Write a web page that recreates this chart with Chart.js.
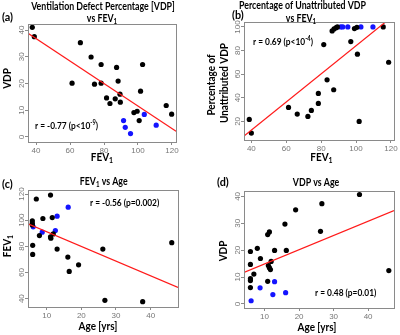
<!DOCTYPE html>
<html><head><meta charset="utf-8">
<script src="https://cdn.jsdelivr.net/npm/chart.js@4/dist/chart.umd.min.js"></script>
<style>
html,body{margin:0;padding:0;background:#fff;}
body{width:400px;height:335px;position:relative;overflow:hidden;}
canvas{position:absolute;}
</style></head><body>
<canvas id="ca" width="200" height="165" style="left:0;top:0"></canvas>
<canvas id="cb" width="200" height="165" style="left:200px;top:0"></canvas>
<canvas id="cc" width="200" height="170" style="left:0;top:165px"></canvas>
<canvas id="cd" width="200" height="170" style="left:200px;top:165px"></canvas>
<script>
// ---------- data: panel (a) VDP vs FEV1 ----------
const aBlackFEV = [37.8,39,66.1,72.4,78.3,87.4,102.7,61.2,74.4,78.3,88.3,81.5,83.5,86.6,89.4,89.6,101.5,97.6,99.5,100.7,116.6,119.8];
const aBlackVDP = [41,37.5,35.25,29.9,27.1,26,27.1,20.1,19.75,20.1,20.9,14.6,12.5,14.25,16,13,17.1,9.1,9.6,6.1,11.75,8.5];
const aBlueFEV  = [91.5,92.5,95.6,103.7,110.7];
const aBlueVDP  = [6.1,3.6,1.25,8.4,4.4];
const aFitX = [35.3,122.4];
const aFitY = [38.75,2.1];
const aXTicks = [40,60,80,100,120];
const aYTicks = [0,10,20,30,40];

// ---------- panel (b) Unattributed VDP % vs FEV1 ----------
const bBlackFEV = [38.8,40,61.3,66.3,72.4,74.4,78.4,78.4,81.5,83.4,87.2,86.3,87.4,88.6,89.3,97,99.1,100.5,100.8,101.8,115.6,118.7];
const bBlackPct = [21.7,10.1,31.8,26.2,24.2,29.3,35.2,43.7,85.1,55.2,46.8,96.6,98.3,99.4,100,87.6,98.6,99.7,76.9,20,100,70.1];
const bBlueFEV  = [91.2,92.4,95.3,102.8,109.7];
const bBluePct  = [100,100,100,100,100];
const bFitX = [35.8,118];
const bFitY = [7.6,105.5];
const bXTicks = [40,60,80,100,120];
const bYTicks = [20,40,60,80,100];

// ---------- panel (c) FEV1 vs Age ----------
const cBlackAge = [5.85,5.85,5.85,5.95,5.95,7.0,7.9,8.9,11.1,11.1,11.2,11.6,11.9,13.0,16.1,16.5,19.2,26.2,26.8,37.7,46.1];
const cBlackFEV = [99.5,97.7,96.4,80.8,73.8,116.2,88.2,101.3,119.2,87.2,86.2,102,89.5,77.9,71.8,60.8,65.9,77.9,38.7,37.7,82.8];
const cBlueAge  = [6.1,8.7,12.5,13,16.2];
const cBlueFEV  = [94.9,90.8,92.1,103.1,110];
const cFitX = [4.6,47.9];
const cFitY = [97.2,48.5];
const cXTicks = [10,20,30,40];
const cYTicks = [40,60,80,100,120];

// ---------- panel (d) VDP vs Age ----------
const dBlackAge = [5.9,5.9,5.9,5.9,5.9,6.9,7.9,8.8,10.9,11.4,10.9,11.1,11.4,11.7,11.9,12.9,15.9,16.3,19.0,26.2,26.6,37.5,46];
const dBlackVDP = [19.5,14.7,9.4,8.7,6.1,11.1,20.7,16.9,25.8,26.8,8.4,14.3,13.5,12.8,15.8,19.9,29.7,19.9,35,27,37.3,40.7,12.4];
const dBlueAge  = [6.1,8.7,12.4,12.9,16.1];
const dBlueVDP  = [1.2,6,3.5,8.3,4.2];
const dFitX = [4.04,47.5];
const dFitY = [11.7,34.7];
const dXTicks = [10,20,30,40];
const dYTicks = [0,10,20,30,40];

const pts = (xs, ys) => xs.map((v, i) => ({x: v, y: ys[i]}));

const TITLE_FONT = 'Lato, "Open Sans", sans-serif';
const TICK_FONT = '"Liberation Sans", Arial, sans-serif';

function drawParts(ctx, parts, x, y, size, weight, color, align, family, sx) {
  sx = sx || 1;
  const fonts = parts.map(p => `${weight} ${p[1] ? size * 0.7 : size}px ${family}`);
  const widths = parts.map((p, i) => { ctx.font = fonts[i]; return ctx.measureText(p[0]).width; });
  const total = widths.reduce((a, b) => a + b, 0) * sx;
  const x0 = align === 'center' ? x - total / 2 : (align === 'right' ? x - total : x);
  ctx.save();
  ctx.translate(x0, y); ctx.scale(sx, 1);
  ctx.fillStyle = color; ctx.textBaseline = 'middle'; ctx.textAlign = 'left';
  let cx = 0;
  parts.forEach((p, i) => {
    ctx.font = fonts[i];
    const dy = p[1] === 1 ? size * 0.3 : (p[1] === 2 ? -size * 0.35 : 0);
    ctx.fillText(p[0], cx, dy);
    cx += widths[i];
  });
  ctx.restore();
}
function drawRot(ctx, parts, x, y, size, weight, color, family, sx) {
  ctx.save(); ctx.translate(x, y); ctx.rotate(-Math.PI / 2);
  drawParts(ctx, parts, 0, 0, size, weight, color, 'center', family, sx);
  ctx.restore();
}

const panelText = {
  id: 'panelText',
  afterDraw(chart) {
    const P = chart.config.options.plugins.panelText;
    const ctx = chart.ctx, a = chart.chartArea;
    const xs = chart.scales.x, ys = chart.scales.y;
    ctx.save();
    ctx.strokeStyle = '#8a8a8a'; ctx.lineWidth = 1;
    ctx.strokeRect(Math.round(a.left) + 0.5, Math.round(a.top) + 0.5, Math.round(a.right - a.left), Math.round(a.bottom - a.top));
    xs.ticks.forEach(t => drawParts(ctx, [[String(t.value), 0]], xs.getPixelForValue(t.value), a.bottom + 9, 8, 'normal', '#777', 'center', TICK_FONT));
    ys.ticks.forEach(t => drawRot(ctx, [[String(t.value), 0]], a.left - 6.5, ys.getPixelForValue(t.value), 8, 'normal', '#777', TICK_FONT));
    drawParts(ctx, [[P.label, 0]], P.labelPos[0], P.labelPos[1], 12, 'bold', '#000', 'left', TITLE_FONT, 0.9);
    P.title.forEach(t => drawParts(ctx, t.parts, t.pos[0], t.pos[1], 11, 'bold', '#000', 'center', TITLE_FONT, 0.8));
    drawParts(ctx, P.xlab, P.xlabPos[0], P.xlabPos[1], 12, 'bold', '#000', 'center', TITLE_FONT, 0.83);
    P.ylab.forEach(t => drawRot(ctx, t.parts, t.pos[0], t.pos[1], 12, 'bold', '#000', TITLE_FONT, 0.83));
    drawParts(ctx, P.ann, P.annPos[0], P.annPos[1], 9.5, 'bold', '#000', 'left', TITLE_FONT, 0.88);
    ctx.restore();
  }
};

function makeChart(id, cfg) {
  const cv = document.getElementById(id);
  const W = cv.width, H = cv.height, box = cfg.box;
  return new Chart(cv, {
    type: 'scatter',
    data: {datasets: [
      {type: 'line', data: pts(cfg.fitX, cfg.fitY), borderColor: '#ff1a1a', borderWidth: 1.2, pointRadius: 0, fill: false, tension: 0},
      {data: pts(cfg.bx, cfg.by), backgroundColor: '#000', borderWidth: 0, pointRadius: 2.6, clip: false},
      {data: pts(cfg.ux, cfg.uy), backgroundColor: '#1414ff', borderWidth: 0, pointRadius: 2.6, clip: false}
    ]},
    options: {
      responsive: false, animation: false, devicePixelRatio: 1,
      layout: {padding: {left: box[0], top: box[1], right: W - box[2], bottom: H - box[3]}},
      plugins: {legend: {display: false}, tooltip: {enabled: false}, panelText: cfg.text},
      scales: {
        x: {type: 'linear', min: cfg.xr[0], max: cfg.xr[1],
            afterBuildTicks: s => { s.ticks = cfg.xt.map(v => ({value: v})); },
            afterFit: s => { s.height = 0; },
            ticks: {display: false},
            grid: {drawOnChartArea: false, drawTicks: true, tickLength: 3, color: '#8a8a8a'},
            border: {display: false}},
        y: {type: 'linear', min: cfg.yr[0], max: cfg.yr[1],
            afterBuildTicks: s => { s.ticks = cfg.yt.map(v => ({value: v})); },
            afterFit: s => { s.width = 0; },
            ticks: {display: false},
            grid: {drawOnChartArea: false, drawTicks: true, tickLength: 3, color: '#8a8a8a'},
            border: {display: false}}
      }
    },
    plugins: [panelText]
  });
}

const FEV1 = [['FEV', 0], ['1', 1]];

makeChart('ca', {
  box: [28, 24, 176, 142], xr: [35.28, 122.36], yr: [-1.9, 42.25], xt: aXTicks, yt: aYTicks,
  bx: aBlackFEV, by: aBlackVDP, ux: aBlueFEV, uy: aBlueVDP, fitX: aFitX, fitY: aFitY,
  text: {label: '(a)', labelPos: [2, 17],
    title: [{parts: [['Ventilation Defect Percentage [VDP]', 0]], pos: [103, 6]}, {parts: [['vs FEV', 0], ['1', 1]], pos: [102, 18.5]}],
    xlab: FEV1, xlabPos: [102, 157], ylab: [{parts: [['VDP', 0]], pos: [7.5, 78.5]}],
    ann: [['r = -0.77 (p<10', 0], ['-9', 2], [')', 0]], annPos: [35, 126]}
});
makeChart('cb', {
  box: [44, 22, 194, 140], xr: [35.78, 121.77], yr: [4.23, 104.2], xt: bXTicks, yt: bYTicks,
  bx: bBlackFEV, by: bBlackPct, ux: bBlueFEV, uy: bBluePct, fitX: bFitX, fitY: bFitY,
  text: {label: '(b)', labelPos: [32, 15],
    title: [{parts: [['Percentage of Unattributed VDP', 0]], pos: [102.5, 5.5]}, {parts: [['vs FEV', 0], ['1', 1]], pos: [101, 18]}],
    xlab: FEV1, xlabPos: [121.5, 157], ylab: [{parts: [['Percentage of', 0]], pos: [11.5, 85]}, {parts: [['Unattributed VDP', 0]], pos: [24, 83]}],
    ann: [['r = 0.69 (p<10', 0], ['-4', 2], [')', 0]], annPos: [53, 41.7]}
});
makeChart('cc', {
  box: [28, 25, 178, 142], xr: [4.6, 47.9], yr: [33.6, 123.1], xt: cXTicks, yt: cYTicks,
  bx: cBlackAge, by: cBlackFEV, ux: cBlueAge, uy: cBlueFEV, fitX: cFitX, fitY: cFitY,
  text: {label: '(c)', labelPos: [2, 19],
    title: [{parts: [['FEV', 0], ['1', 1], [' vs Age', 0]], pos: [103.7, 16.7]}],
    xlab: [['Age [yrs]', 0]], xlabPos: [98, 161.5], ylab: [{parts: FEV1, pos: [6.7, 81]}],
    ann: [['r = -0.56 (p=0.002)', 0]], annPos: [90, 37.7]}
});
makeChart('cd', {
  box: [44, 26, 194, 143], xr: [4.04, 47.5], yr: [-1.5, 42], xt: dXTicks, yt: dYTicks,
  bx: dBlackAge, by: dBlackVDP, ux: dBlueAge, uy: dBlueVDP, fitX: dFitX, fitY: dFitY,
  text: {label: '(d)', labelPos: [17, 17.3],
    title: [{parts: [['VDP vs Age', 0]], pos: [116, 17]}],
    xlab: [['Age [yrs]', 0]], xlabPos: [117, 162], ylab: [{parts: [['VDP', 0]], pos: [22.7, 86]}],
    ann: [['r = 0.48 (p=0.01)', 0]], annPos: [115, 127.7]}
});
</script>
</body></html>
